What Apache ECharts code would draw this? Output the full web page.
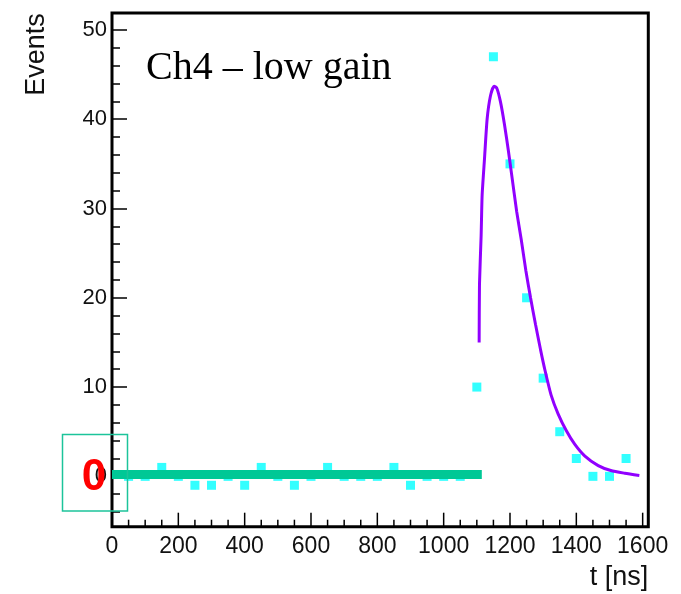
<!DOCTYPE html>
<html>
<head>
<meta charset="utf-8">
<script src="https://cdn.jsdelivr.net/npm/echarts@6/dist/echarts.min.js"></script>
<style>html,body{margin:0;padding:0;background:#fff;}#c{width:681px;height:594px;}</style>
</head>
<body>
<div id="c"></div>
<script>
// ---- data ----
var pointT = [50,100,150,200,250,300,350,400,450,500,550,600,650,700,750,800,850,900,950,1000,1050,1100,1150,1200,1250,1300,1350,1400,1450,1500,1550];
var pointV = [0,0,1,0,-1,-1,0,-1,1,0,-1,0,1,0,0,0,1,-1,0,0,0,10,47,35,20,11,5,2,0,0,2];
var curveT = [1107,1108,1113,1116,1123,1131,1141,1152,1160,1171,1183,1195,1205,1220,1234,1248,1262,1277,1292,1306,1324,1345,1370,1395,1425,1466,1504,1546,1590];
var curveV = [15,21.5,27,31.5,35.5,40,42.6,43.7,43.5,42,39.5,36.5,33.8,29.7,26.5,23,20,17,14.2,11.8,9.1,7.0,5.1,3.6,2.3,1.2,0.65,0.35,0.1];
var baselineT = [0,1115];
var baselineV = [0.2,0.2];
var xMajor = [0,200,400,600,800,1000,1200,1400,1600];
var xMinor = [50,100,150,250,300,350,450,500,550,650,700,750,850,900,950,1050,1100,1150,1250,1300,1350,1450,1500,1550];
var yMajor = [0,10,20,30,40,50];
var yMinor = [-4,-2,2,4,6,8,12,14,16,18,22,24,26,28,32,34,36,38,42,44,46,48];
var xMin = 0, xMax = 1617, yMin = -5.64, yMax = 51.9;

function zip(a,b){ return a.map(function(v,i){ return [v,b[i]]; }); }
function plain(v){ return String(v); }

var chart = echarts.init(document.getElementById('c'), null, {renderer:'canvas'});
var tickStyle = {color:'#000', width:1.5};
var baseGraphic = [
  {type:'text', x:36.7, y:13.3, rotation:Math.PI/2, z:10,
   style:{text:'Events', fontFamily:'Liberation Sans', fontSize:27, fill:'#111', textAlign:'right', textVerticalAlign:'middle'}},
  {type:'text', x:648.3, y:578, z:10,
   style:{text:'t [ns]', fontFamily:'Liberation Sans', fontSize:27, fill:'#111', textAlign:'right', textVerticalAlign:'middle'}},
  {type:'text', x:146, y:68, z:10,
   style:{text:'Ch4 \u2013 low gain', fontFamily:'Liberation Serif', fontSize:40, fill:'#000', textAlign:'left', textVerticalAlign:'middle'}},
  {type:'rect', z:10, shape:{x:62.5, y:434.5, width:65, height:76.5},
   style:{fill:'none', stroke:'#1cc49a', lineWidth:1.5}},
  {type:'text', x:94, y:478, z:20,
   style:{text:'0', fontFamily:'Liberation Sans', fontWeight:'bold', fontSize:44, fill:'#ff0000', textAlign:'center', textVerticalAlign:'middle'}}
];
var option = {
  animation:false,
  backgroundColor:'#fff',
  grid:{left:112, right:32.7, top:13, bottom:67.3, show:true, borderColor:'#000', borderWidth:3, backgroundColor:'transparent'},
  xAxis:[
    {type:'value', min:xMin, max:xMax, position:'bottom',
     axisLine:{show:false, onZero:false}, splitLine:{show:false},
     axisTick:{show:false},
     axisLabel:{show:true, margin:8, customValues:xMajor, formatter:plain, fontFamily:'Liberation Sans', fontSize:23, color:'#111'}}
  ],
  yAxis:[
    {type:'value', min:yMin, max:yMax, position:'left',
     axisLine:{show:false, onZero:false}, splitLine:{show:false},
     axisTick:{show:true, inside:true, length:15, customValues:yMajor, lineStyle:tickStyle},
     axisLabel:{show:true, margin:5, customValues:yMajor, formatter:plain, fontFamily:'Liberation Sans', fontSize:22, color:'#111'}},
    {type:'value', min:yMin, max:yMax, position:'left',
     axisLine:{show:false, onZero:false}, splitLine:{show:false},
     axisTick:{show:true, inside:true, length:8, customValues:yMinor, lineStyle:tickStyle},
     axisLabel:{show:false}}
  ],
  series:[
    {type:'scatter', xAxisIndex:0, yAxisIndex:0, data:zip(pointT,pointV), symbol:'rect', symbolSize:9,
     itemStyle:{color:'#00ffff'}, z:2},
    {type:'line', xAxisIndex:0, yAxisIndex:0, data:zip(baselineT,baselineV), showSymbol:false, symbol:'none',
     lineStyle:{color:'#00c896', width:9, cap:'butt'}, z:3},
    {type:'line', xAxisIndex:0, yAxisIndex:0, data:zip(curveT,curveV), showSymbol:false, symbol:'none', smooth:0.2,
     lineStyle:{color:'#9100ff', width:3}, z:4}
  ],
  graphic: baseGraphic
};
chart.setOption(option);

// x-axis ticks pointing inward from the bottom frame, placed through the axis scale
var yb = chart.convertToPixel({yAxisIndex:0}, yMin);
function tickEl(v, len){
  var x = chart.convertToPixel({xAxisIndex:0}, v);
  return {type:'line', z:100, silent:true,
          shape:{x1:x, y1:yb, x2:x, y2:yb-len},
          style:{stroke:'#000', lineWidth:1.5}};
}
var ticks = xMajor.map(function(v){ return tickEl(v, 14); })
  .concat(xMinor.map(function(v){ return tickEl(v, 7); }));
chart.setOption({graphic: baseGraphic.concat(ticks)});
</script>
</body>
</html>
